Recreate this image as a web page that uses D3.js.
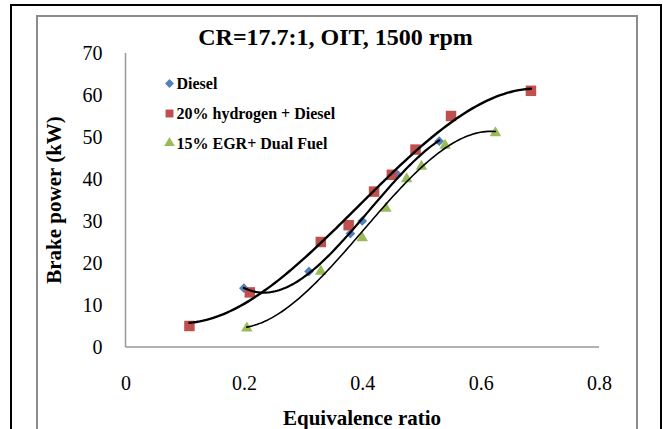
<!DOCTYPE html>
<html>
<head>
<meta charset="utf-8">
<script src="https://cdn.jsdelivr.net/npm/d3@7"></script>
<style>
  html, body { margin: 0; padding: 0; background: #fff; }
  svg { display: block; }
</style>
</head>
<body>
<svg id="chart" width="663" height="429"></svg>
<script>
// ---- data ----
const chartTitle = "CR=17.7:1, OIT, 1500 rpm";
const xTitle = "Equivalence ratio";
const yTitle = "Brake power (kW)";
const seriesNames = ["Diesel", "20% hydrogen + Diesel", "15% EGR+ Dual Fuel"];
const seriesColors = ["#4F81BD", "#C0504D", "#9BBB59"];

const dieselX = [0.20, 0.31, 0.38, 0.40, 0.46, 0.53];
const dieselY = [14, 18, 27, 30, 41, 49];

const hydrogenX = [0.108, 0.21, 0.33, 0.377, 0.42, 0.45, 0.49, 0.55, 0.685];
const hydrogenY = [5, 13, 25, 29, 37, 41, 47, 55, 61];

const egrX = [0.205, 0.33, 0.40, 0.44, 0.475, 0.50, 0.54, 0.625];
const egrY = [4.5, 18, 26, 33, 40, 43, 48, 51];

const xTicks = [0, 0.2, 0.4, 0.6, 0.8];
const yTicks = [0, 10, 20, 30, 40, 50, 60, 70];

// ---- helpers: least-squares polynomial trendline (Excel-like) ----
function polyFit(xs, ys, deg) {
  const n = deg + 1;
  const A = Array.from({length: n}, () => new Array(n + 1).fill(0));
  for (let i = 0; i < xs.length; i++) {
    const p = [];
    for (let k = 0; k < 2 * n; k++) p.push(Math.pow(xs[i], k));
    for (let r = 0; r < n; r++) {
      for (let c = 0; c < n; c++) A[r][c] += p[r + c];
      A[r][n] += ys[i] * p[r];
    }
  }
  for (let c = 0; c < n; c++) {
    let piv = c;
    for (let r = c + 1; r < n; r++) if (Math.abs(A[r][c]) > Math.abs(A[piv][c])) piv = r;
    [A[c], A[piv]] = [A[piv], A[c]];
    for (let r = 0; r < n; r++) {
      if (r === c) continue;
      const f = A[r][c] / A[c][c];
      for (let k = c; k <= n; k++) A[r][k] -= f * A[c][k];
    }
  }
  return A.map((row, i) => row[n] / row[i]);
}
function polyEval(coef, x) { return coef.reduce((s, c, i) => s + c * Math.pow(x, i), 0); }

// ---- layout ----
const svg = d3.select("#chart");
const x = d3.scaleLinear().domain([0, 0.8]).range([125.5, 599]);
const y = d3.scaleLinear().domain([0, 70]).range([347, 53]);
const serif = "'Liberation Serif', 'Times New Roman', serif";

// borders
svg.append("rect").attr("x", 11).attr("y", 5).attr("width", 650).attr("height", 440)
  .attr("fill", "none").attr("stroke", "#000").attr("stroke-width", 2);
svg.append("rect").attr("x", 37).attr("y", 16).attr("width", 600).attr("height", 430)
  .attr("fill", "none").attr("stroke", "#8c8c8c").attr("stroke-width", 2);

// axes
const yAxis = svg.append("g").attr("transform", `translate(${x(0)},0)`)
  .call(d3.axisLeft(y).tickValues(yTicks).tickSize(0).tickPadding(23).tickFormat(d3.format("d")));
const xAxis = svg.append("g").attr("transform", `translate(0,${y(0)})`)
  .call(d3.axisBottom(x).tickValues(xTicks).tickSize(0).tickFormat(d => d === 0 ? "0" : d3.format(".1f")(d)));
[yAxis, xAxis].forEach(g => {
  g.select(".domain").attr("stroke", "#989898").attr("stroke-width", 1.5);
  g.selectAll("text").attr("font-family", serif).attr("font-size", 20).attr("fill", "#000");
});
yAxis.select(".domain").attr("d", `M0,${y(70)}V${y(0)}`);
xAxis.select(".domain").attr("d", `M${x(0)},0H${x(0.8)}`);
xAxis.selectAll("text").attr("y", 36).attr("dy", "0.35em");

// titles
svg.append("text").attr("x", 335.5).attr("y", 37).attr("dy", "0.35em").attr("text-anchor", "middle")
  .attr("font-family", serif).attr("font-weight", "bold").attr("font-size", 24).text(chartTitle);
svg.append("text").attr("x", 362).attr("y", 418).attr("dy", "0.35em").attr("text-anchor", "middle")
  .attr("font-family", serif).attr("font-weight", "bold").attr("font-size", 21).text(xTitle);
svg.append("text").attr("transform", "translate(54,200) rotate(-90)").attr("dy", "0.35em")
  .attr("text-anchor", "middle").attr("font-family", serif).attr("font-weight", "bold")
  .attr("font-size", 21).text(yTitle);

// series
const series = [
  {xs: dieselX, ys: dieselY, sym: d3.symbolDiamond2, size: 60, lw: 2.2},
  {xs: hydrogenX, ys: hydrogenY, sym: d3.symbolSquare2, size: 140, lw: 2.4},
  {xs: egrX, ys: egrY, sym: d3.symbolTriangle2, size: 95, lw: 1.6}
];
series.forEach((s, i) => {
  const pts = s.xs.map((v, j) => [v, s.ys[j]]);
  svg.append("g").selectAll("path").data(pts).join("path")
    .attr("transform", d => `translate(${x(d[0])},${y(d[1])})`)
    .attr("d", d3.symbol().type(s.sym).size(s.size))
    .attr("fill", seriesColors[i]);
});
series.forEach((s, i) => {
  const coef = polyFit(s.xs, s.ys, 3);
  const x0 = d3.min(s.xs), x1 = d3.max(s.xs);
  const samples = d3.range(0, 101).map(k => x0 + (x1 - x0) * k / 100);
  svg.append("path")
    .attr("d", d3.line().x(v => x(v)).y(v => y(polyEval(coef, v)))(samples))
    .attr("fill", "none").attr("stroke", "#000").attr("stroke-width", s.lw)
    .attr("stroke-linecap", "round");
});

// legend
const legY = [83.5, 113.5, 143];
series.forEach((s, i) => {
  svg.append("path").attr("transform", `translate(169.5,${legY[i]})`)
    .attr("d", d3.symbol().type(s.sym).size(i === 0 ? 50 : 80)).attr("fill", seriesColors[i]);
  svg.append("text").attr("x", 176.5).attr("y", legY[i]).attr("dy", "0.35em")
    .attr("font-family", serif).attr("font-weight", "bold").attr("font-size", 16)
    .text(seriesNames[i]);
});
</script>
</body>
</html>
